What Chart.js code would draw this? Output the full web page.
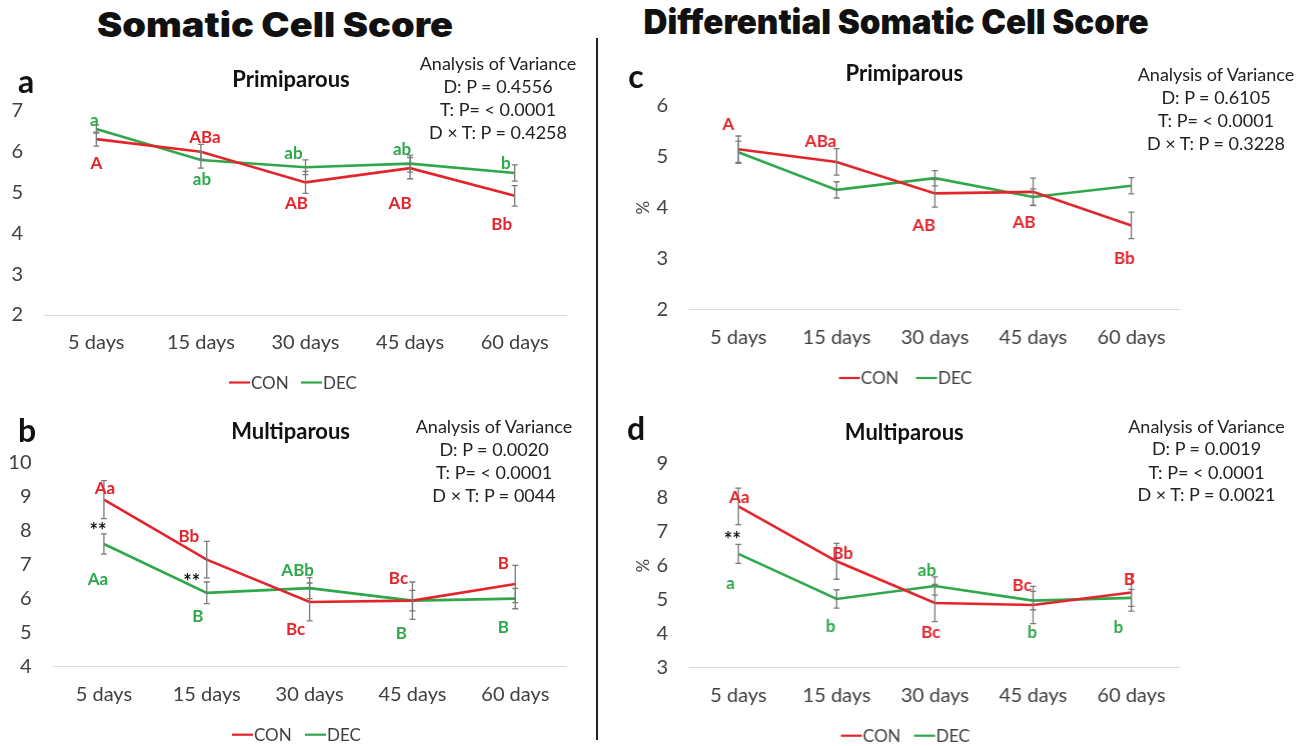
<!DOCTYPE html>
<html>
<head>
<meta charset="utf-8">
<script src="https://cdn.jsdelivr.net/npm/chart.js@4.4.1/dist/chart.umd.min.js"></script>
<style>
  html, body { margin:0; padding:0; background:#fff; }
  body { width:1304px; height:746px; position:relative; overflow:hidden; font-family: Lato, "Open Sans", sans-serif; }
  .t { position:absolute; white-space:nowrap; transform:translate(-50%,-50%); line-height:1; }
  .big { font-family: Inter, "DejaVu Sans", sans-serif; font-weight:900; font-size:34px; color:#111; }
  .sub { font-weight:700; font-size:22px; color:#111; }
  .anova { font-size:18px; color:#222; }
  .letter { font-weight:700; font-size:32px; color:#111; }
  #divider { position:absolute; left:596px; top:38px; width:2px; height:702px; background:#222; }
  canvas { display:block; }
</style>
</head>
<body>
<div id="divider"></div>
<script>
// ---------------- DATA ----------------
const categories = ['5 days', '15 days', '30 days', '45 days', '60 days'];

// (a) Somatic Cell Score - Primiparous
const scsPrimCON    = [6.31, 6.00, 5.25, 5.60, 4.92];
const scsPrimCONSem = [0.17, 0.18, 0.27, 0.26, 0.25];
const scsPrimDEC    = [6.56, 5.80, 5.62, 5.71, 5.48];
const scsPrimDECSem = [0.10, 0.20, 0.18, 0.21, 0.20];
const scsPrimCONLetters = ['A', 'ABa', 'AB', 'AB', 'Bb'];
const scsPrimDECLetters = ['a', 'ab', 'ab', 'ab', 'b'];
const scsPrimTicks = [2, 3, 4, 5, 6, 7];

// (b) Somatic Cell Score - Multiparous
const scsMultCON    = [8.92, 7.15, 5.90, 5.94, 6.43];
const scsMultCONSem = [0.56, 0.54, 0.56, 0.55, 0.55];
const scsMultDEC    = [7.61, 6.17, 6.31, 5.94, 6.00];
const scsMultDECSem = [0.30, 0.32, 0.31, 0.30, 0.30];
const scsMultCONLetters = ['Aa', 'Bb', 'Bc', 'Bc', 'B'];
const scsMultDECLetters = ['Aa', 'B', 'ABb', 'B', 'B'];
const scsMultTicks = [4, 5, 6, 7, 8, 9, 10];

// (c) Differential Somatic Cell Score - Primiparous (%)
const dscsPrimCON    = [5.15, 4.90, 4.28, 4.31, 3.65];
const dscsPrimCONSem = [0.26, 0.26, 0.27, 0.27, 0.26];
const dscsPrimDEC    = [5.09, 4.35, 4.58, 4.21, 4.43];
const dscsPrimDECSem = [0.22, 0.16, 0.15, 0.16, 0.16];
const dscsPrimCONLetters = ['A', 'ABa', 'AB', 'AB', 'Bb'];
const dscsPrimDECLetters = ['', '', '', '', ''];
const dscsPrimTicks = [2, 3, 4, 5, 6];

// (d) Differential Somatic Cell Score - Multiparous (%)
const dscsMultCON    = [7.75, 6.13, 4.90, 4.84, 5.21];
const dscsMultCONSem = [0.54, 0.53, 0.55, 0.55, 0.55];
const dscsMultDEC    = [6.35, 5.02, 5.40, 4.97, 5.05];
const dscsMultDECSem = [0.28, 0.27, 0.27, 0.27, 0.25];
const dscsMultCONLetters = ['Aa', 'Bb', 'Bc', 'Bc', 'B'];
const dscsMultDECLetters = ['a', 'b', 'ab', 'b', 'b'];
const dscsMultTicks = [3, 4, 5, 6, 7, 8, 9];

const seriesNames = ['CON', 'DEC'];

// ---------------- STYLE / LAYOUT ----------------
const RED = '#e3242b';
const GREEN = '#2ea84a';
const FONT = 'Lato, "Open Sans", sans-serif';

function addText(text, x, y, cls) {
  const d = document.createElement('div');
  d.className = 't ' + cls;
  d.textContent = text;
  d.style.left = x + 'px';
  d.style.top = y + 'px';
  document.body.appendChild(d);
  return d;
}

const extrasPlugin = {
  id: 'panelExtras',
  afterDatasetsDraw(chart) {
    const p = chart.canvas.$panel;
    if (!p) return;
    const ctx = chart.ctx;
    const ys = chart.scales.y;
    // error bars
    chart.data.datasets.forEach((ds, di) => {
      const meta = chart.getDatasetMeta(di);
      ctx.save();
      ctx.strokeStyle = '#7a7a7a';
      ctx.lineWidth = 1.3;
      meta.data.forEach((pt, i) => {
        const v = ds.data[i], e = ds.errors[i];
        const y1 = ys.getPixelForValue(v + e), y2 = ys.getPixelForValue(v - e);
        ctx.beginPath();
        ctx.moveTo(pt.x, y1); ctx.lineTo(pt.x, y2);
        ctx.moveTo(pt.x - 3, y1); ctx.lineTo(pt.x + 3, y1);
        ctx.moveTo(pt.x - 3, y2); ctx.lineTo(pt.x + 3, y2);
        ctx.stroke();
      });
      ctx.restore();
    });
    // significance letters
    chart.data.datasets.forEach((ds, di) => {
      const meta = chart.getDatasetMeta(di);
      const offs = p.letterOffsets[di];
      ctx.save();
      ctx.fillStyle = ds.borderColor;
      ctx.font = 'bold 17px ' + FONT;
      ctx.textAlign = 'center';
      ctx.textBaseline = 'middle';
      meta.data.forEach((pt, i) => {
        const txt = ds.letters[i];
        if (!txt) return;
        ctx.fillText(txt, pt.x + offs[i][0], pt.y + offs[i][1]);
      });
      ctx.restore();
    });
    // ** marks
    (p.stars || []).forEach(s => {
      const pt = chart.getDatasetMeta(s.dataset).data[s.index];
      ctx.save();
      ctx.fillStyle = '#111';
      ctx.font = 'bold 20px ' + FONT;
      ctx.textAlign = 'center';
      ctx.textBaseline = 'middle';
      ctx.fillText('**', pt.x + s.dx, pt.y + s.dy + 2);
      ctx.restore();
    });
    // legend (position relative to the chart area)
    const lg = p.legend;
    ctx.save();
    ctx.font = '17px ' + FONT;
    ctx.textBaseline = 'middle';
    ctx.textAlign = 'left';
    chart.data.datasets.forEach((ds, di) => {
      const x = lg.x[di] - p.area.left + chart.chartArea.left;
      const y = lg.y - p.area.top + chart.chartArea.top;
      ctx.strokeStyle = ds.borderColor;
      ctx.lineWidth = 2.2;
      ctx.beginPath(); ctx.moveTo(x, y); ctx.lineTo(x + 21, y); ctx.stroke();
      ctx.fillStyle = '#404040';
      ctx.fillText(ds.label, x + 22, y + 1);
    });
    ctx.restore();
  }
};

function makePanel(p) {
  const H = 330;
  const wrap = document.createElement('div');
  const cv = document.createElement('canvas');
  cv.width = p.W; cv.height = H;
  cv.style.width = p.W + 'px'; cv.style.height = H + 'px';
  cv.$panel = p;
  wrap.appendChild(cv);
  document.body.appendChild(wrap);
  wrap.style.cssText = `position:absolute;left:${p.L}px;top:${p.area.top - 30}px;width:${p.W}px;height:${H}px;`;
  const tmin = p.ticks[0], tmax = p.ticks[p.ticks.length - 1];
  const wantH = p.area.bottom - p.area.top;
  const fit = { yWidth: p.area.left - p.L, xHeight: H - 30 - wantH };
  const opts = {
    responsive: false,
    animation: false,
    devicePixelRatio: 1,
    layout: { padding: { top: 0, right: p.L + p.W - p.area.right, bottom: 0, left: 0 } },
    plugins: { legend: { display: false }, tooltip: { enabled: false } },
    scales: {
      x: {
        offset: true,
        grid: { display: false, drawTicks: false },
        border: { display: false },
        ticks: { font: { family: FONT, size: 20 }, color: '#404040', padding: 16, maxRotation: 0, autoSkip: false },
        afterFit: s => { s.height = fit.xHeight; }
      },
      y: {
        min: tmin, max: tmax,
        afterBuildTicks: s => { s.ticks = p.ticks.map(v => ({ value: v })); },
        grid: { color: c => (c.tick && c.tick.value === tmin) ? '#d9d9d9' : 'rgba(0,0,0,0)', drawTicks: false, lineWidth: 1 },
        border: { display: false },
        ticks: { font: { family: FONT, size: 20 }, color: '#404040', padding: 21 },
        title: p.yTitle ? { display: true, text: p.yTitle, font: { family: FONT, size: 17 }, color: '#404040', padding: { top: 0, bottom: 0 } } : { display: false },
        afterFit: s => { s.width = fit.yWidth; }
      }
    }
  };
  const ch = new Chart(cv, {
    type: 'line',
    data: {
      labels: categories,
      datasets: [
        { label: seriesNames[0], data: p.con, errors: p.conSem, letters: p.conLetters,
          borderColor: RED, backgroundColor: RED, borderWidth: 2.6, pointRadius: 0, tension: 0 },
        { label: seriesNames[1], data: p.dec, errors: p.decSem, letters: p.decLetters,
          borderColor: GREEN, backgroundColor: GREEN, borderWidth: 2.6, pointRadius: 0, tension: 0 }
      ]
    },
    options: opts,
    plugins: [extrasPlugin]
  });
  // adjust plot height / width so the chart area has exactly the wanted size
  for (let k = 0; k < 4; k++) {
    const ca = ch.chartArea;
    const dh = wantH - (ca.bottom - ca.top);
    const dl = (p.area.left - p.L) - ca.left;
    const dr = (p.area.right - p.L) - ca.right;
    if (Math.abs(dh) < 0.2 && Math.abs(dl) < 0.2 && Math.abs(dr) < 0.2) break;
    fit.xHeight -= dh;
    fit.yWidth += dl;
    opts.layout.padding.right -= dr;
    ch.update('none');
  }
  // shift the canvas so the chart area sits where wanted
  wrap.style.top = (p.area.top - ch.chartArea.top) + 'px';
}

makePanel({
  L: 0, W: 585,
  area: { left: 44, right: 567, top: 111, bottom: 315 },
  con: scsPrimCON, conSem: scsPrimCONSem, dec: scsPrimDEC, decSem: scsPrimDECSem,
  conLetters: scsPrimCONLetters, decLetters: scsPrimDECLetters, ticks: scsPrimTicks,
  letterOffsets: [
    [[0, 24], [4, -14], [-9, 21], [-10, 35], [-13, 29]],
    [[-2, -8], [1, 20], [-12, -14], [-8, -14], [-9, -10]]
  ],
  stars: [],
  legend: { x: [229, 301], y: 382.5 }
});

makePanel({
  L: 0, W: 585,
  area: { left: 52.5, right: 566.7, top: 463.3, bottom: 666.7 },
  con: scsMultCON, conSem: scsMultCONSem, dec: scsMultDEC, decSem: scsMultDECSem,
  conLetters: scsMultCONLetters, decLetters: scsMultDECLetters, ticks: scsMultTicks,
  letterOffsets: [
    [[1, -11], [-18, -23], [-14, 28], [-14, -22], [-12, -21]],
    [[-6, 35], [-9, 24], [-12, -18], [-11, 33], [-12, 29]]
  ],
  stars: [{ dataset: 1, index: 0, dx: -6, dy: -14 }, { dataset: 1, index: 1, dx: -15, dy: -12 }],
  legend: { x: [232, 305], y: 735 }
});

makePanel({
  L: 633.4, W: 666.6,
  area: { left: 689.6, right: 1180, top: 106, bottom: 309.3 },
  con: dscsPrimCON, conSem: dscsPrimCONSem, dec: dscsPrimDEC, decSem: dscsPrimDECSem,
  conLetters: dscsPrimCONLetters, decLetters: dscsPrimDECLetters, ticks: dscsPrimTicks,
  yTitle: '%',
  letterOffsets: [
    [[-10, -25], [-16, -20], [-11, 32], [-9, 31], [-7, 33]],
    [[0, 0], [0, 0], [0, 0], [0, 0], [0, 0]]
  ],
  stars: [],
  legend: { x: [839, 916], y: 378 }
});

makePanel({
  L: 633.4, W: 666.6,
  area: { left: 689.6, right: 1180, top: 464.3, bottom: 667.7 },
  con: dscsMultCON, conSem: dscsMultCONSem, dec: dscsMultDEC, decSem: dscsMultDECSem,
  conLetters: dscsMultCONLetters, decLetters: dscsMultDECLetters, ticks: dscsMultTicks,
  yTitle: '%',
  letterOffsets: [
    [[1, -9], [6, -8], [-4, 30], [-11, -20], [-2, -13]],
    [[-8, 30], [-6, 28], [-8, -16], [-1, 32], [-13, 30]]
  ],
  stars: [{ dataset: 1, index: 0, dx: -6, dy: -15 }],
  legend: { x: [841, 914], y: 736 }
});

// ---------------- TEXT ----------------
function fitWidth(el, w) {
  const cur = el.getBoundingClientRect().width;
  if (cur > 0) el.style.transform = `translate(-50%,-50%) scaleX(${w / cur})`;
}
const t1 = addText('Somatic Cell Score', 275, 25, 'big');
const t2 = addText('Differential Somatic Cell Score', 895.5, 22, 'big');
fitWidth(t1, 356);
fitWidth(t2, 505);

addText('a', 26, 81, 'letter');
addText('b', 27, 430, 'letter');
addText('c', 636, 76, 'letter');
addText('d', 636, 428, 'letter');

addText('Primiparous', 291, 78.5, 'sub');
addText('Primiparous', 904.3, 73.3, 'sub');
addText('Multiparous', 290.6, 430.7, 'sub');
addText('Multiparous', 904.3, 431.7, 'sub');

function anova(x, ys, lines) { lines.forEach((s, i) => addText(s, x, ys[i], 'anova')); }
anova(498, [62.7, 85.7, 109, 132.3], ['Analysis of Variance', 'D: P = 0.4556', 'T: P= < 0.0001', 'D × T: P = 0.4258']);
anova(1216, [74, 96.7, 120.3, 143.3], ['Analysis of Variance', 'D: P = 0.6105', 'T: P= < 0.0001', 'D × T: P = 0.3228']);
anova(494, [425.7, 448.7, 472, 495.3], ['Analysis of Variance', 'D: P = 0.0020', 'T: P= < 0.0001', 'D × T: P = 0044']);
anova(1206.5, [425.7, 448.3, 472, 494.3], ['Analysis of Variance', 'D: P = 0.0019', 'T: P= < 0.0001', 'D × T: P = 0.0021']);
</script>
</body>
</html>
